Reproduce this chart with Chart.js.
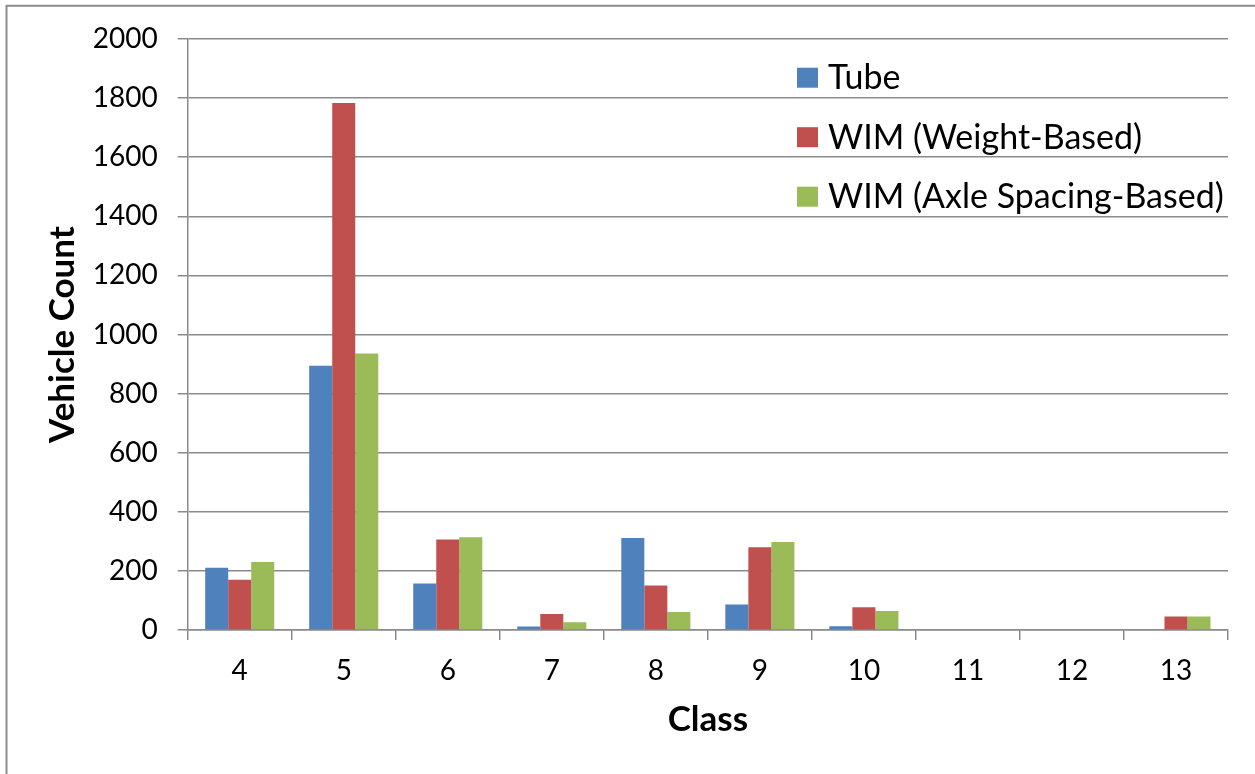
<!DOCTYPE html>
<html>
<head>
<meta charset="utf-8">
<script src="https://cdn.jsdelivr.net/npm/chart.js@4"></script>
<style>
  html, body { margin: 0; padding: 0; background: #fff; }
  #wrap { position: relative; width: 1255px; height: 774px; }
</style>
</head>
<body>
<div id="wrap"><canvas id="vehChart" width="1255" height="774"></canvas></div>
<script>
// vehicle classes on the x axis
const classes = ["4", "5", "6", "7", "8", "9", "10", "11", "12", "13"];

// counts
const tubeCounts   = [211, 894, 157, 12, 311, 86, 13, 0, 0, 0];
const wimWeight    = [170, 1783, 306, 54, 151, 280, 77, 0, 0, 46];
const wimAxle      = [230, 936, 314, 26, 61, 298, 64, 0, 0, 46];

const seriesNames  = ["Tube", "WIM (Weight-Based)", "WIM (Axle Spacing-Based)"];
const yTicks       = [0, 200, 400, 600, 800, 1000, 1200, 1400, 1600, 1800, 2000];

const FONT = "Lato, 'Open Sans', sans-serif";
const GRID = "#8a8a8a";

// legend drawn inside the plot, top right, like the Excel original
const insideLegend = {
  id: "insideLegend",
  afterDraw(chart) {
    const c = chart.ctx;
    c.save();
    c.font = "34px " + FONT;
    c.textBaseline = "alphabetic";
    c.textAlign = "left";
    chart.data.datasets.forEach((ds, i) => {
      const cy = 77.7 + i * 59.5;
      c.fillStyle = ds.backgroundColor;
      c.fillRect(797, cy - 10, 21, 20);
      c.fillStyle = "#000";
      c.fillText(ds.label, 828, cy + 11.5);
    });
    c.restore();
  }
};

// thin frame around the chart (left and top edges are visible)
const frame = {
  id: "frame",
  beforeDraw(chart) {
    const c = chart.ctx;
    c.save();
    c.strokeStyle = "#8c8c8c";
    c.lineWidth = 2;
    c.beginPath();
    c.moveTo(6.5, 774);
    c.lineTo(6.5, 5.7);
    c.lineTo(1255, 5.7);
    c.stroke();
    c.restore();
  }
};

const ctx = document.getElementById("vehChart").getContext("2d");

new Chart(ctx, {
  type: "bar",
  data: {
    labels: classes,
    datasets: [
      { label: seriesNames[0], data: tubeCounts, backgroundColor: "#4F81BD" },
      { label: seriesNames[1], data: wimWeight,  backgroundColor: "#C0504D" },
      { label: seriesNames[2], data: wimAxle,    backgroundColor: "#9BBB59" },
    ],
  },
  options: {
    responsive: false,
    animation: false,
    devicePixelRatio: 1,
    layout: { padding: { left: 0, right: 27, top: 39, bottom: 0 } },
    datasets: {
      bar: { categoryPercentage: 0.664, barPercentage: 1.0, borderWidth: 0 }
    },
    plugins: {
      legend: { display: false },
      tooltip: { enabled: false },
    },
    scales: {
      x: {
        offset: true,
        grid: {
          offset: true,
          drawOnChartArea: false,
          drawTicks: true,
          tickLength: 10,
          color: GRID,
          lineWidth: 1.5,
        },
        border: { display: true, color: GRID, width: 1.5 },
        ticks: { color: "#000", font: { family: FONT, size: 28 }, padding: 14, maxRotation: 0 },
        title: {
          display: true,
          text: "Class",
          color: "#000",
          font: { family: FONT, size: 35, weight: "bold" },
          padding: { top: 0, bottom: 33 },
        },
        afterFit(scale) { scale.height = 774 - 630; },
      },
      y: {
        min: 0,
        max: 2000,
        afterBuildTicks(scale) { scale.ticks = yTicks.map(v => ({ value: v })); },
        grid: {
          drawTicks: true,
          tickLength: 10,
          color: GRID,
          lineWidth: 1.5,
        },
        border: { display: true, color: GRID, width: 1.5 },
        ticks: {
          color: "#000",
          font: { family: FONT, size: 28 },
          padding: 20,
          callback: (v) => String(v),
        },
        title: {
          display: true,
          text: "Vehicle Count",
          color: "#000",
          font: { family: FONT, size: 35, weight: "bold" },
          padding: { top: 42, bottom: 0 },
        },
        afterFit(scale) { scale.width = 187.7; },
      },
    },
  },
  plugins: [frame, insideLegend],
});
</script>
</body>
</html>
